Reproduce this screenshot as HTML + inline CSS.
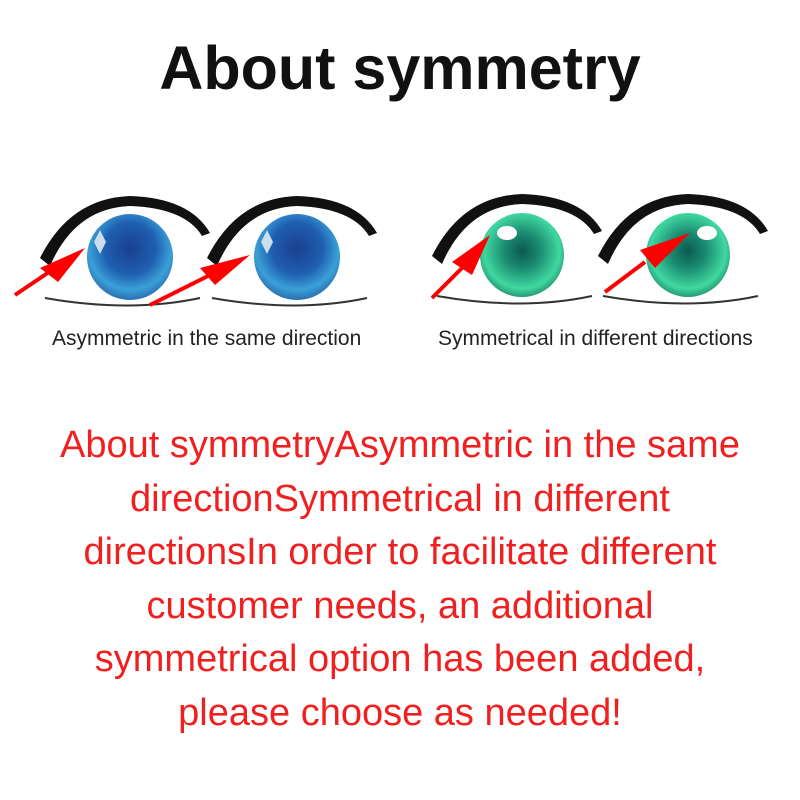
<!DOCTYPE html>
<html><head><style>
body{margin:0;width:800px;height:800px;background:#fff;position:relative;overflow:hidden;font-family:"Liberation Sans",sans-serif}
h1{position:absolute;top:33px;left:0;width:800px;text-align:center;margin:0;font-size:61px;font-weight:bold;color:#111}
.cap{position:absolute;top:327px;font-size:21px;color:#222;white-space:nowrap}
.red{position:absolute;top:419px;left:0;width:800px;text-align:center;color:#f02020;font-size:38px;line-height:53.6px;white-space:nowrap}
</style></head><body>
<h1>About symmetry</h1>
<svg width="800" height="320" style="position:absolute;left:0;top:0">
<defs>
<radialGradient id="b" cx="50%" cy="40%" r="60%"><stop offset="0" stop-color="#1a3f8f"/><stop offset="0.5" stop-color="#1f5fb0"/><stop offset="0.8" stop-color="#3aa0d8"/><stop offset="1" stop-color="#2a70b0"/></radialGradient>
<radialGradient id="g" cx="50%" cy="45%" r="60%"><stop offset="0" stop-color="#0b5a4f"/><stop offset="0.35" stop-color="#1a8a70"/><stop offset="0.75" stop-color="#40d8a0"/><stop offset="1" stop-color="#1a7a60"/></radialGradient>
<g id="lid"><path d="M-90,0 Q-60,-60 0,-62 Q60,-60 80,-25 L72,-22 Q55,-50 0,-52 Q-55,-50 -80,8 Z" fill="#111"/><path d="M-85,40 Q0,55 70,40" stroke="#333" stroke-width="2" fill="none"/></g>
</defs>
<use href="#lid" x="130" y="258"/><circle cx="130" cy="257" r="43" fill="url(#b)"/><path d="M100,230 l6,12 l-6,12 l-6,-12z" fill="#cde"/>
<use href="#lid" x="297" y="258"/><circle cx="297" cy="257" r="43" fill="url(#b)"/><path d="M267,230 l6,12 l-6,12 l-6,-12z" fill="#cde"/>
<use href="#lid" x="522" y="256"/><circle cx="522" cy="255" r="42" fill="url(#g)"/><ellipse cx="507" cy="233" rx="10" ry="7" fill="#fff"/>
<use href="#lid" x="688" y="256"/><circle cx="688" cy="255" r="42" fill="url(#g)"/><ellipse cx="707" cy="233" rx="10" ry="7" fill="#fff"/>
<g stroke="#f00" stroke-width="4" fill="#f00">
<line x1="15" y1="295" x2="55" y2="268"/><polygon points="40,268 85,248 58,282" stroke="none"/>
<line x1="150" y1="305" x2="210" y2="275"/><polygon points="200,268 250,255 215,285" stroke="none"/>
<line x1="432" y1="298" x2="465" y2="265"/><polygon points="452,262 490,235 472,275" stroke="none"/>
<line x1="605" y1="292" x2="645" y2="262"/><polygon points="640,250 690,233 655,268" stroke="none"/>
</g>
</svg>
<div class="cap" style="left:52px">Asymmetric in the same direction</div>
<div class="cap" style="left:438px">Symmetrical in different directions</div>
<div class="red">About symmetryAsymmetric in the same<br>directionSymmetrical in different<br>directionsIn order to facilitate different<br>customer needs, an additional<br>symmetrical option has been added,<br>please choose as needed!</div>
</body></html>
